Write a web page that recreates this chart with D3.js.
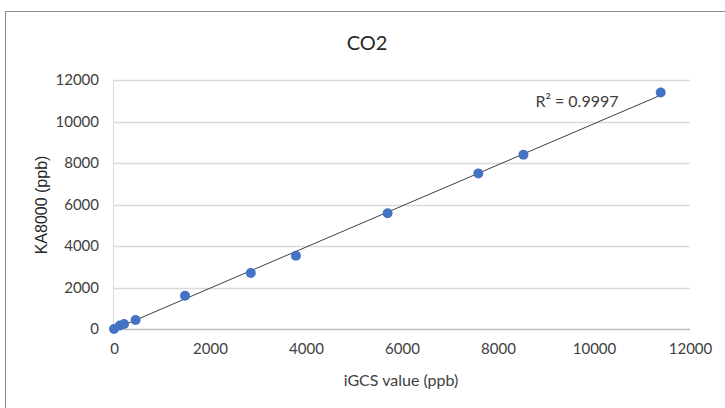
<!DOCTYPE html>
<html>
<head>
<meta charset="utf-8">
<script src="https://cdn.jsdelivr.net/npm/d3@7"></script>
<style>
  html, body { margin: 0; padding: 0; background: #fff; overflow: hidden; }
  text { font-family: Lato, "Open Sans", sans-serif; fill: #404040; }
</style>
</head>
<body>
<figure id="chart" style="margin:0"></figure>
<script>
const igcs   = [0, 120, 210, 450, 1480, 2850, 3790, 5700, 7590, 8530, 11390];
const ka8000 = [0, 170, 240, 430, 1600, 2700, 3530, 5580, 7500, 8400, 11400];
const xTicks = [0, 2000, 4000, 6000, 8000, 10000, 12000];
const yTicks = [0, 2000, 4000, 6000, 8000, 10000, 12000];
const title = "CO2";
const xTitle = "iGCS value (ppb)";
const yTitle = "KA8000 (ppb)";
const r2Label = "R² = 0.9997";

const width = 725, height = 408;
const plot = { left: 114, right: 690, top: 80, bottom: 329 };

const svg = d3.select("figure#chart")
  .append("svg")
  .attr("width", width)
  .attr("height", height);

// chart frame
svg.append("rect")
  .attr("x", 5.5).attr("y", 11.5)
  .attr("width", 800).attr("height", 500)
  .attr("fill", "none")
  .attr("stroke", "#8c8c8c");

const x = d3.scaleLinear().domain([0, 12000]).range([plot.left, plot.right]);
const y = d3.scaleLinear().domain([0, 12000]).range([plot.bottom, plot.top]);

// gridlines
svg.append("g")
  .selectAll("line")
  .data(yTicks)
  .enter()
  .append("line")
  .attr("x1", plot.left).attr("x2", plot.right)
  .attr("y1", d => Math.round(y(d)) + 0.5).attr("y2", d => Math.round(y(d)) + 0.5)
  .attr("stroke", d => d === 0 ? "#bfbfbf" : "#d9d9d9")
  .attr("stroke-width", 1.5);

// vertical axis line
svg.append("line")
  .attr("x1", plot.left - 0.5).attr("x2", plot.left - 0.5)
  .attr("y1", plot.top).attr("y2", plot.bottom)
  .attr("stroke", "#d9d9d9");

// x axis tick labels
const xAxis = svg.append("g")
  .attr("transform", "translate(0," + plot.bottom + ")")
  .call(d3.axisBottom(x).tickValues(xTicks).tickSize(0).tickPadding(14).tickFormat(d3.format("d")));
xAxis.select(".domain").remove();
xAxis.selectAll("text")
  .style("font-family", "Lato, sans-serif")
  .style("font-size", "15px")
  .attr("fill", "#404040");

// y axis tick labels
const yAxis = svg.append("g")
  .attr("transform", "translate(" + plot.left + ",0)")
  .call(d3.axisLeft(y).tickValues(yTicks).tickSize(0).tickPadding(15).tickFormat(d3.format("d")));
yAxis.select(".domain").remove();
yAxis.selectAll("text")
  .style("font-family", "Lato, sans-serif")
  .style("font-size", "15px")
  .attr("fill", "#404040");

// linear trendline (least squares)
const mx = d3.mean(igcs), my = d3.mean(ka8000);
const sxy = d3.sum(igcs, (v, i) => (v - mx) * (ka8000[i] - my));
const sxx = d3.sum(igcs, v => (v - mx) * (v - mx));
const slope = sxy / sxx, intercept = my - slope * mx;
const xExt = d3.extent(igcs);
svg.append("path")
  .datum(xExt)
  .attr("d", d3.line().x(d => x(d)).y(d => y(slope * d + intercept)))
  .attr("stroke", "#404040")
  .attr("stroke-width", 1)
  .attr("fill", "none");

// points
svg.append("g")
  .selectAll("circle")
  .data(igcs.map((v, i) => ({ x: v, y: ka8000[i] })))
  .enter()
  .append("circle")
  .attr("cx", d => x(d.x))
  .attr("cy", d => y(d.y))
  .attr("r", 5)
  .attr("fill", "#4472c4");

// titles
svg.append("text")
  .attr("x", 367).attr("y", 50)
  .attr("text-anchor", "middle")
  .style("font-size", "20px")
  .style("fill", "#262626")
  .text(title);

svg.append("text")
  .attr("x", 401).attr("y", 386)
  .attr("text-anchor", "middle")
  .style("font-size", "16px")
  .text(xTitle);

svg.append("text")
  .attr("transform", "translate(47,205) rotate(-90)")
  .attr("text-anchor", "middle")
  .style("font-family", "'Liberation Sans', Arial, sans-serif")
  .style("font-size", "16px")
  .style("fill", "#262626")
  .text(yTitle);

svg.append("text")
  .attr("x", 577).attr("y", 107)
  .attr("text-anchor", "middle")
  .style("font-size", "16px")
  .text(r2Label);
</script>
</body>
</html>
